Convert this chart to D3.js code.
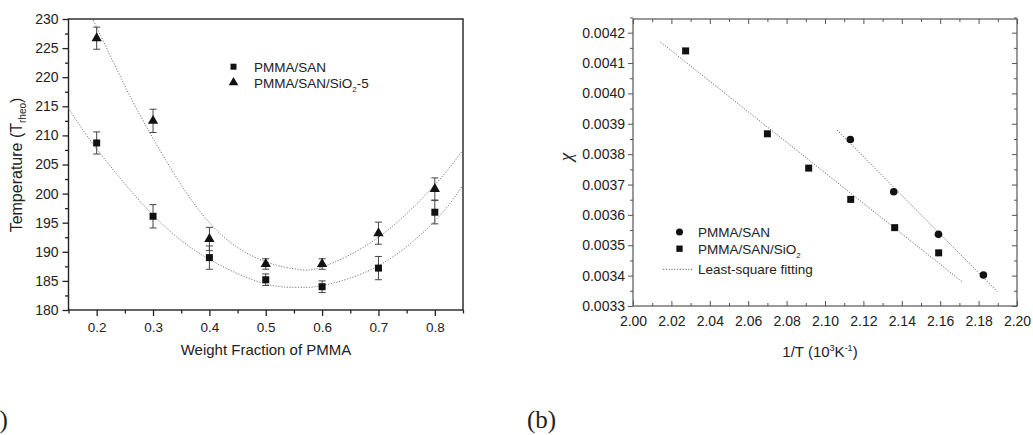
<!DOCTYPE html>
<html>
<head>
<meta charset="utf-8">
<script src="https://cdn.jsdelivr.net/npm/d3@7"></script>
<style>
  body { margin: 0; background: #fff; }
  svg { display: block; }
  text { font-family: "Liberation Sans", Arial, sans-serif; fill: #222; }
</style>
</head>
<body>
<svg id="chart" width="1033" height="435"></svg>
<script>
// ---- panel (a) data ----
const fracs = [0.2, 0.3, 0.4, 0.5, 0.6, 0.7, 0.8];
const tempSAN = [208.7, 196.1, 189.0, 185.2, 184.0, 187.2, 196.8];
const errSAN = [1.9, 2.0, 2.0, 1.0, 1.0, 2.0, 2.0];
const tempSiO2 = [226.7, 212.5, 192.2, 187.9, 187.9, 193.2, 200.8];
const errSiO2 = [1.9, 2.0, 2.0, 0.9, 0.9, 1.9, 1.9];
// fitted curves
const fitSANx = [0.15, 0.2, 0.3, 0.4, 0.5, 0.56, 0.6, 0.7, 0.8, 0.85];
const fitSANy = [214.7, 207.7, 196.3, 188.7, 184.5, 183.9, 184.2, 187.6, 195.3, 201.5];
const fitSiO2x = [0.194, 0.25, 0.3, 0.4, 0.5, 0.557, 0.6, 0.7, 0.8, 0.85];
const fitSiO2y = [229.8, 218.5, 209.5, 195.0, 188.3, 187.0, 187.4, 192.5, 201.5, 207.5];

// ---- panel (b) data ----
const invT_SAN = [2.1132, 2.1358, 2.1591, 2.1825];
const chi_SAN = [0.003848, 0.003676, 0.003536, 0.003402];
const invT_SiO2 = [2.0274, 2.0700, 2.0915, 2.1134, 2.1363, 2.1592];
const chi_SiO2 = [0.00414, 0.003867, 0.003754, 0.003651, 0.003558, 0.003475];
const lineSANx = [2.1063, 2.1898];
const lineSANy = [0.003879, 0.003347];
const lineSiO2x = [2.0143, 2.1716];
const lineSiO2y = [0.004169, 0.003379];

const svg = d3.select("#chart");

// ================= panel (a) =================
const xa = d3.scaleLinear().domain([0.15, 0.85]).range([68.5, 463]);
const ya = d3.scaleLinear().domain([180, 230]).range([310, 19]);
const ga = svg.append("g");

// frame
ga.append("rect")
  .attr("x", xa(0.15)).attr("y", ya(230))
  .attr("width", xa(0.85) - xa(0.15)).attr("height", ya(180) - ya(230))
  .attr("fill", "none").attr("stroke", "#222").attr("stroke-width", 1.4);

const axA = (g) => { g.select(".domain").remove(); g.selectAll("line").attr("stroke", "#222").attr("stroke-width", 1.3); };

ga.append("g").attr("transform", `translate(0,${ya(180)})`)
  .call(d3.axisBottom(xa).tickValues(d3.range(0.2, 0.81, 0.1)).tickFormat(d3.format(".1f")).tickSize(6).tickPadding(6))
  .call(axA)
  .selectAll("text").style("font-size", "13.5px").attr("fill", "#333");
ga.append("g").attr("transform", `translate(0,${ya(180)})`)
  .call(d3.axisBottom(xa).tickValues(d3.range(0.15, 0.86, 0.1)).tickFormat("").tickSize(3.5))
  .call(axA);

ga.append("g").attr("transform", `translate(${xa(0.15)},0)`)
  .call(d3.axisLeft(ya).tickValues(d3.range(180, 231, 5)).tickSize(6).tickPadding(4))
  .call(axA)
  .selectAll("text").style("font-size", "14px").attr("fill", "#333");
ga.append("g").attr("transform", `translate(${xa(0.15)},0)`)
  .call(d3.axisLeft(ya).tickValues(d3.range(182.5, 230, 5)).tickFormat("").tickSize(3.5))
  .call(axA);

// fits
const lineA = d3.line().x(d => xa(d[0])).y(d => ya(d[1])).curve(d3.curveNatural);
[[fitSANx, fitSANy], [fitSiO2x, fitSiO2y]].forEach(([xs, ys]) => {
  ga.append("path")
    .datum(xs.map((x, i) => [x, ys[i]]))
    .attr("d", lineA)
    .attr("fill", "none").attr("stroke", "#777").attr("stroke-width", 1)
    .attr("stroke-dasharray", "1.2,1.6");
});

// error bars
const drawErr = (vals, errs) => {
  const g = ga.append("g").attr("stroke", "#444").attr("stroke-width", 1);
  fracs.forEach((f, i) => {
    const x = xa(f), y1 = ya(vals[i] + errs[i]), y2 = ya(vals[i] - errs[i]);
    g.append("line").attr("x1", x).attr("x2", x).attr("y1", y1).attr("y2", y2);
    g.append("line").attr("x1", x - 3.5).attr("x2", x + 3.5).attr("y1", y1).attr("y2", y1);
    g.append("line").attr("x1", x - 3.5).attr("x2", x + 3.5).attr("y1", y2).attr("y2", y2);
  });
};
drawErr(tempSAN, errSAN);
drawErr(tempSiO2, errSiO2);

const sq = d3.symbol().type(d3.symbolSquare).size(49);
const tri = d3.symbol().type(d3.symbolTriangle).size(46);
ga.selectAll(".sq").data(fracs).enter().append("path")
  .attr("d", sq).attr("fill", "#111")
  .attr("transform", (d, i) => `translate(${xa(d)},${ya(tempSAN[i])})`);
ga.selectAll(".tri").data(fracs).enter().append("path")
  .attr("d", tri).attr("fill", "#111")
  .attr("transform", (d, i) => `translate(${xa(d)},${ya(tempSiO2[i])})`);

// legend
ga.append("path").attr("d", d3.symbol().type(d3.symbolSquare).size(36)).attr("fill", "#111")
  .attr("transform", "translate(233.5,66.7)");
ga.append("path").attr("d", d3.symbol().type(d3.symbolTriangle).size(40)).attr("fill", "#111")
  .attr("transform", "translate(233.5,82.5)");
ga.append("text").attr("x", 254).attr("y", 71.5).style("font-size", "13.5px").text("PMMA/SAN");
const lt = ga.append("text").attr("x", 254).attr("y", 87.5).style("font-size", "13.5px");
lt.append("tspan").text("PMMA/SAN/SiO");
lt.append("tspan").attr("dy", 4).style("font-size", "8px").text("2");
lt.append("tspan").attr("dy", -4).text("-5");

// axis titles
ga.append("text").attr("x", 266).attr("y", 355).attr("text-anchor", "middle")
  .style("font-size", "15px").attr("fill", "#333").text("Weight Fraction of PMMA");
const yt = ga.append("text").attr("transform", "translate(22,165) rotate(-90)")
  .attr("text-anchor", "middle").style("font-size", "16px").attr("fill", "#333");
yt.append("tspan").text("Temperature  (T");
yt.append("tspan").attr("dy", 4).style("font-size", "10px").text("rheo");
yt.append("tspan").attr("dy", -4).text(")");

svg.append("text").attr("x", -20).attr("y", 428)
  .style("font-family", "'Liberation Serif', 'Times New Roman', serif").style("font-size", "25px")
  .attr("fill", "#111").text("(a)");

// ================= panel (b) =================
const xb = d3.scaleLinear().domain([2.0, 2.2]).range([633, 1017]);
const yb = d3.scaleLinear().domain([0.0033, 0.004245]).range([306, 19]);
const gb = svg.append("g");
const axB = (g) => { g.select(".domain").remove(); g.selectAll("line").attr("stroke", "#555").attr("stroke-width", 1); };

gb.append("rect")
  .attr("x", xb(2.0)).attr("y", yb(0.004245))
  .attr("width", xb(2.2) - xb(2.0)).attr("height", yb(0.0033) - yb(0.004245))
  .attr("fill", "none").attr("stroke", "#555").attr("stroke-width", 1.2);

const xMaj = d3.range(0, 11).map(i => 2.0 + i * 0.02);
const xMin = d3.range(0, 10).map(i => 2.01 + i * 0.02);
const yMaj = d3.range(0, 10).map(i => 0.0033 + i * 0.0001);
const yMin = d3.range(0, 10).map(i => 0.00335 + i * 0.0001);

// bottom (inward ticks)
gb.append("g").attr("transform", `translate(0,${yb(0.0033)})`)
  .call(d3.axisBottom(xb).tickValues(xMaj).tickFormat(d3.format(".2f")).tickSizeInner(-5).tickSizeOuter(0).tickPadding(10))
  .call(axB)
  .selectAll("text").style("font-size", "14px").attr("fill", "#333");
gb.append("g").attr("transform", `translate(0,${yb(0.0033)})`)
  .call(d3.axisBottom(xb).tickValues(xMin).tickFormat("").tickSizeInner(-3).tickSizeOuter(0))
  .call(axB);
// top (inward ticks)
gb.append("g").attr("transform", `translate(0,${yb(0.004245)})`)
  .call(d3.axisTop(xb).tickValues(xMaj).tickFormat("").tickSizeInner(-5).tickSizeOuter(0))
  .call(axB);
gb.append("g").attr("transform", `translate(0,${yb(0.004245)})`)
  .call(d3.axisTop(xb).tickValues(xMin).tickFormat("").tickSizeInner(-3).tickSizeOuter(0))
  .call(axB);
// left (outward ticks)
gb.append("g").attr("transform", `translate(${xb(2.0)},0)`)
  .call(d3.axisLeft(yb).tickValues(yMaj).tickFormat(d3.format(".4f")).tickSizeInner(5).tickSizeOuter(0).tickPadding(3))
  .call(axB)
  .selectAll("text").style("font-size", "14px").attr("fill", "#333");
gb.append("g").attr("transform", `translate(${xb(2.0)},0)`)
  .call(d3.axisLeft(yb).tickValues(yMin).tickFormat("").tickSizeInner(3).tickSizeOuter(0))
  .call(axB);
// right (inward ticks)
gb.append("g").attr("transform", `translate(${xb(2.2)},0)`)
  .call(d3.axisRight(yb).tickValues(yMaj).tickFormat("").tickSizeInner(-5).tickSizeOuter(0))
  .call(axB);
gb.append("g").attr("transform", `translate(${xb(2.2)},0)`)
  .call(d3.axisRight(yb).tickValues(yMin).tickFormat("").tickSizeInner(-3).tickSizeOuter(0))
  .call(axB);

// least-square lines
const lineB = d3.line().x(d => xb(d[0])).y(d => yb(d[1]));
[[lineSANx, lineSANy], [lineSiO2x, lineSiO2y]].forEach(([xs, ys]) => {
  gb.append("path")
    .datum(xs.map((x, i) => [x, ys[i]]))
    .attr("d", lineB)
    .attr("fill", "none").attr("stroke", "#666").attr("stroke-width", 1)
    .attr("stroke-dasharray", "1.2,1.6");
});

gb.selectAll(".c").data(invT_SAN).enter().append("circle")
  .attr("cx", d => xb(d)).attr("cy", (d, i) => yb(chi_SAN[i])).attr("r", 3.8).attr("fill", "#111");
gb.selectAll(".s").data(invT_SiO2).enter().append("path")
  .attr("d", sq).attr("fill", "#111")
  .attr("transform", (d, i) => `translate(${xb(d)},${yb(chi_SiO2[i])})`);

// legend
gb.append("circle").attr("cx", 679.5).attr("cy", 232).attr("r", 3.5).attr("fill", "#111");
gb.append("path").attr("d", d3.symbol().type(d3.symbolSquare).size(40)).attr("fill", "#111")
  .attr("transform", "translate(679.5,248.7)");
gb.append("line").attr("x1", 663).attr("x2", 693).attr("y1", 269.3).attr("y2", 269.3)
  .attr("stroke", "#666").attr("stroke-dasharray", "1.2,1.6");
gb.append("text").attr("x", 698).attr("y", 237).style("font-size", "13.5px").text("PMMA/SAN");
const lb = gb.append("text").attr("x", 698).attr("y", 254).style("font-size", "13.5px");
lb.append("tspan").text("PMMA/SAN/SiO");
lb.append("tspan").attr("dy", 4).style("font-size", "8px").text("2");
gb.append("text").attr("x", 698).attr("y", 274).style("font-size", "13.5px").text("Least-square fitting");

// axis titles
const xt = gb.append("text").attr("x", 820).attr("y", 357).attr("text-anchor", "middle")
  .style("font-size", "15px").attr("fill", "#333");
xt.append("tspan").text("1/T (10");
xt.append("tspan").attr("dy", -6).style("font-size", "9px").text("3");
xt.append("tspan").attr("dy", 6).text("K");
xt.append("tspan").attr("dy", -6).style("font-size", "9px").text("-1");
xt.append("tspan").attr("dy", 6).text(")");

gb.append("text").attr("transform", "translate(572,157) rotate(-90)").attr("text-anchor", "middle")
  .style("font-family", "'Liberation Serif', 'Times New Roman', serif").style("font-style", "italic")
  .style("font-size", "19px").attr("fill", "#222").text("χ");

svg.append("text").attr("x", 527).attr("y", 428)
  .style("font-family", "'Liberation Serif', 'Times New Roman', serif").style("font-size", "25px")
  .attr("fill", "#111").text("(b)");
</script>
</body>
</html>
